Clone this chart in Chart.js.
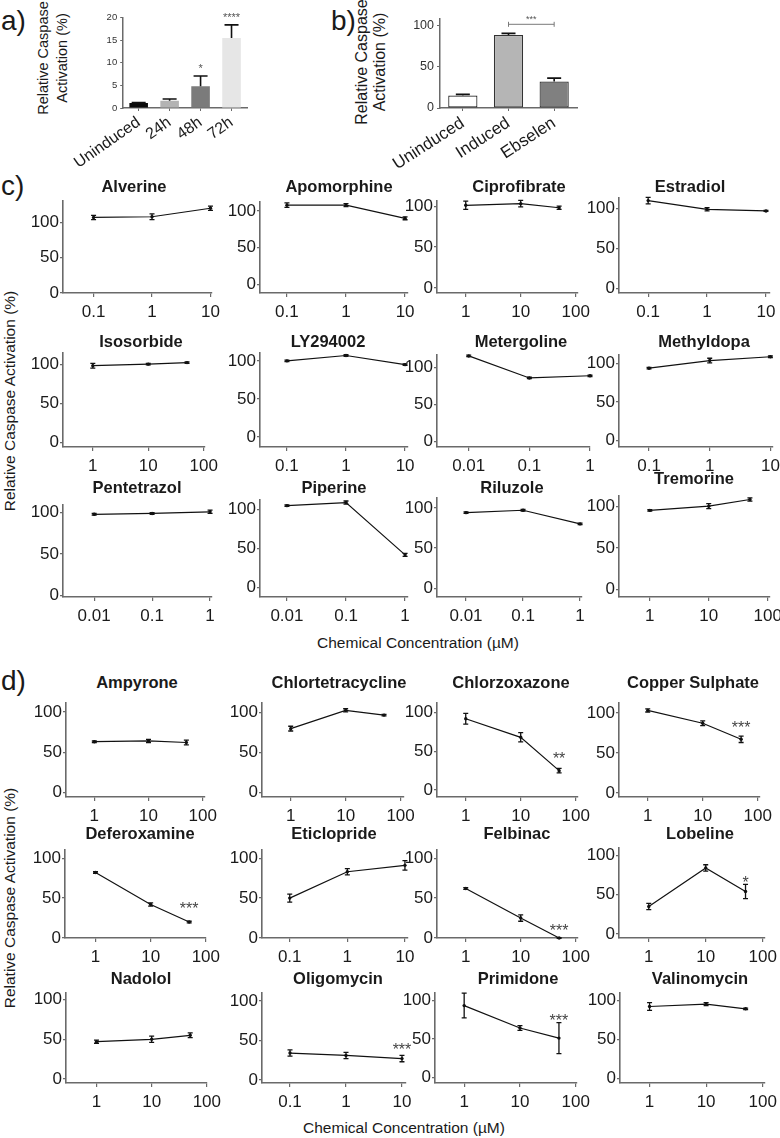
<!DOCTYPE html>
<html>
<head>
<meta charset="utf-8">
<script src="https://cdn.jsdelivr.net/npm/chart.js@4.4.1/dist/chart.umd.min.js"></script>
<style>
html,body{margin:0;padding:0;background:#fff;}
#fig{position:relative;width:780px;height:1138px;overflow:hidden;font-family:"Liberation Sans",Arial,sans-serif;color:#1a1a1a;}
#fig canvas{position:absolute;}
.t{position:absolute;white-space:nowrap;line-height:1;}
.plabel{font-size:28px;transform:translateY(-50%);}
.ctitle{font-weight:bold;font-size:16.5px;transform:translate(-50%,-50%);}
.rot{transform:translate(-50%,-50%) rotate(-90deg);text-align:center;}
.xt{transform:translate(-50%,-50%);font-size:15.5px;}
</style>
</head>
<body>
<div id="fig"></div>
<script>
// ================= DATA =================
// Panel a
const aCategories = ['Uninduced', '24h', '48h', '72h'];
const aValues = [1.1, 1.6, 4.8, 15.5];
const aErrors = [0.1, 0.4, 2.3, 2.9];
const aStars = ['', '', '*', '****'];
const aYTicks = [0, 5, 10, 15, 20];

// Panel b
const bCategories = ['Uninduced', 'Induced', 'Ebselen'];
const bValues = [15, 88, 32];
const bErrors = [1.4, 2, 4];
const bYTicks = [0, 50, 100];
const bCompare = [1, 2];
const bCompareStars = '***';

// Panel c
const cNames = ['Alverine', 'Apomorphine', 'Ciprofibrate', 'Estradiol', 'Isosorbide', 'LY294002', 'Metergoline', 'Methyldopa', 'Pentetrazol', 'Piperine', 'Riluzole', 'Tremorine'];
const cDoses = [[0.1, 1, 10], [0.1, 1, 10], [1, 10, 50], [0.1, 1, 10], [1, 10, 50], [0.1, 1, 10], [0.01, 0.1, 1], [0.1, 1, 10], [0.01, 0.1, 1], [0.01, 0.1, 1], [0.01, 0.1, 1], [1, 10, 50]];
const cXTicks = [[0.1, 1, 10], [0.1, 1, 10], [1, 10, 100], [0.1, 1, 10], [1, 10, 100], [0.1, 1, 10], [0.01, 0.1, 1], [0.1, 1, 10], [0.01, 0.1, 1], [0.01, 0.1, 1], [0.01, 0.1, 1], [1, 10, 100]];
const cMeans = [[107, 108, 120], [108, 108, 90], [101, 103, 98], [110, 99, 97], [98, 100, 102], [100, 107, 95], [116, 86, 89], [94, 104, 109], [98, 99, 101], [105, 109, 42], [94, 97, 80], [95, 100, 108]];
const cErrors = [[3, 4, 3], [3, 2, 2], [5, 4, 2], [4, 2, 0.6], [3, 1, 1], [1, 1, 1], [1, 1, 1], [1, 3, 1], [1, 1, 2], [1, 2, 2], [1, 1, 1], [1, 3, 2]];
const cStars = ['', '', '', '', '', '', '', '', '', '', '', ''];

// Panel d
const dNames = ['Ampyrone', 'Chlortetracycline', 'Chlorzoxazone', 'Copper Sulphate', 'Deferoxamine', 'Eticlopride', 'Felbinac', 'Lobeline', 'Nadolol', 'Oligomycin', 'Primidone', 'Valinomycin'];
const dDoses = [[1, 10, 50], [1, 10, 50], [1, 10, 50], [1, 10, 50], [1, 10, 50], [0.1, 1, 10], [1, 10, 50], [1, 10, 50], [1, 10, 50], [0.1, 1, 10], [1, 10, 50], [1, 10, 50]];
const dXTicks = [[1, 10, 100], [1, 10, 100], [1, 10, 100], [1, 10, 100], [1, 10, 100], [0.1, 1, 10], [1, 10, 100], [1, 10, 100], [1, 10, 100], [0.1, 1, 10], [1, 10, 100], [1, 10, 100]];
const dMeans = [[63, 64, 62], [80, 103, 97], [92, 68, 25], [103, 87, 67], [82, 42, 20], [50, 83, 91], [62, 25, 0], [35, 84, 54], [47, 50, 55], [34, 31, 27], [93, 64, 51], [92, 95, 89]];
const dErrors = [[1, 2, 3], [3, 2, 1], [7, 6, 3], [2, 3, 4], [1, 2, 1], [5, 4, 6], [1, 4, 0.5], [4, 4, 9], [2, 4, 3], [4, 4, 4], [16, 3, 20], [5, 2, 1]];
const dStars = ['', '', '**', '***', '***', '', '***', '*', '', '***', '***', ''];

const yTicksPct = [0, 50, 100];

// ================= LAYOUT (positions / sizes) =================
const cLayout = [
  {box: [63, 198, 213, 293], y: [0, 130], x: [0.030, 10.4], title: [134, 186]},
  {box: [260, 199, 408, 293], y: [-12, 112], x: [0.035, 11.2], title: [339, 186]},
  {box: [437, 198, 583, 293], y: [-6, 106], x: [0.31, 108], title: [519, 186]},
  {box: [619, 195, 770, 293], y: [-6, 113], x: [0.032, 11.7], title: [690, 186]},
  {box: [63, 350, 211, 447], y: [-6, 114], x: [0.29, 104], title: [141, 341]},
  {box: [260, 350, 408, 447], y: [-13, 110], x: [0.035, 11.2], title: [328, 341]},
  {box: [437, 352, 590, 447], y: [-8, 117], x: [0.003, 1.0], title: [521, 341]},
  {box: [619, 352, 773, 447], y: [-9, 111], x: [0.032, 10.8], title: [704, 341]},
  {box: [63, 502, 212, 597], y: [-2, 109], x: [0.0029, 1.08], title: [137, 487]},
  {box: [260, 497, 408, 597], y: [-12, 112], x: [0.0035, 1.12], title: [334, 487]},
  {box: [437, 495, 582, 597], y: [-11, 112], x: [0.0031, 1.08], title: [512, 487]},
  {box: [619, 493, 775, 597], y: [-9, 112], x: [0.31, 108], title: [694, 478]}
];
const dLayout = [
  {box: [66, 700, 210, 797], y: [-6, 111], x: [0.31, 108], title: [137, 682], sdy: 11},
  {box: [262, 700, 408, 797], y: [-6, 112], x: [0.33, 113], title: [339, 682], sdy: 11},
  {box: [437, 700, 583, 797], y: [-9, 112], x: [0.31, 108], title: [511, 682], sdy: 13},
  {box: [619, 700, 765, 797], y: [-5, 112], x: [0.33, 108], title: [693, 682], sdy: 12},
  {box: [65, 847, 213, 938], y: [0, 110], x: [0.28, 100], title: [140, 833], sdy: 16},
  {box: [262, 847, 408, 938], y: [0, 110], x: [0.033, 11.3], title: [334, 833], sdy: 11},
  {box: [437, 847, 583, 938], y: [0, 110], x: [0.31, 108], title: [517, 833], sdy: 11},
  {box: [619, 845, 770, 938], y: [-5, 109], x: [0.30, 108], title: [700, 833], sdy: 6},
  {box: [66, 990, 214, 1083], y: [-5, 108], x: [0.28, 100], title: [141, 978], sdy: 11},
  {box: [262, 990, 406, 1083], y: [-4, 110], x: [0.0316, 11.8], title: [338, 978], sdy: 10},
  {box: [435, 990, 583, 1083], y: [-7, 109], x: [0.32, 104], title: [518, 978], sdy: 6},
  {box: [620, 990, 770, 1083], y: [-6, 109], x: [0.30, 108], title: [700, 978], sdy: 11}
];

const FF = '"Liberation Sans", Arial, Helvetica, sans-serif';
const AXIS = '#6a6a6a';
const fig = document.getElementById('fig');

function addText(txt, cls, x, y, extra) {
  const d = document.createElement('div');
  d.className = 't ' + cls;
  d.innerHTML = txt;
  d.style.left = x + 'px';
  d.style.top = y + 'px';
  if (extra) Object.assign(d.style, extra);
  fig.appendChild(d);
  return d;
}

function makeCanvas(left, top, w, h) {
  const cv = document.createElement('canvas');
  cv.width = w; cv.height = h;
  cv.style.left = left + 'px'; cv.style.top = top + 'px';
  cv.style.width = w + 'px'; cv.style.height = h + 'px';
  fig.appendChild(cv);
  return cv;
}

// Error bars + significance stars
const errorPlugin = {
  id: 'errs',
  afterDatasetsDraw(chart) {
    const ctx = chart.ctx, ys = chart.scales.y;
    chart.data.datasets.forEach((ds, di) => {
      const ex = ds.errInfo; if (!ex) return;
      const meta = chart.getDatasetMeta(di);
      ctx.save();
      ctx.strokeStyle = ex.color; ctx.lineWidth = ex.width;
      meta.data.forEach((el, i) => {
        const m = ex.means[i], e = ex.errors[i];
        const x = el.x;
        const yTop = ys.getPixelForValue(m + e);
        const yBot = ex.upOnly ? ys.getPixelForValue(m) : ys.getPixelForValue(m - e);
        ctx.beginPath();
        ctx.moveTo(x, yTop); ctx.lineTo(x, yBot);
        ctx.moveTo(x - ex.cap, yTop); ctx.lineTo(x + ex.cap, yTop);
        if (!ex.upOnly) { ctx.moveTo(x - ex.cap, yBot); ctx.lineTo(x + ex.cap, yBot); }
        ctx.stroke();
        const s = ex.stars && ex.stars[i];
        if (s) {
          ctx.fillStyle = ex.starColor;
          ctx.font = ex.starSize + 'px ' + FF;
          ctx.textAlign = 'center'; ctx.textBaseline = 'alphabetic';
          ctx.fillText(s, x, yTop - ex.starDy + 0.57 * ex.starSize);
        }
      });
      ctx.restore();
    });
  }
};

// Comparison bracket (panel b)
const bracketPlugin = {
  id: 'bracket',
  afterDatasetsDraw(chart, args, opts) {
    if (!opts || !opts.pair) return;
    const ctx = chart.ctx, xs = chart.scales.x, ys = chart.scales.y;
    const x1 = xs.getPixelForValue(opts.pair[0]), x2 = xs.getPixelForValue(opts.pair[1]);
    const y = ys.getPixelForValue(opts.value);
    ctx.save();
    ctx.strokeStyle = '#7a7a7a'; ctx.lineWidth = 1;
    ctx.beginPath();
    ctx.moveTo(x1, y); ctx.lineTo(x2, y);
    ctx.moveTo(x1, y - 2.5); ctx.lineTo(x1, y + 2.5);
    ctx.moveTo(x2, y - 2.5); ctx.lineTo(x2, y + 2.5);
    ctx.stroke();
    ctx.fillStyle = '#555';
    ctx.font = '9px ' + FF; ctx.textAlign = 'center'; ctx.textBaseline = 'alphabetic';
    ctx.fillText(opts.label, (x1 + x2) / 2, y - 2);
    ctx.restore();
  }
};

function barChart(cfg) {
  const [L, T, R, B] = cfg.box;
  const padL = cfg.padL, padT = 8, padR = 8, padB = cfg.padB;
  const cv = makeCanvas(L - padL, T - padT, R - L + padL + padR, B - T + padT + padB);
  new Chart(cv, {
    type: 'bar',
    data: {
      labels: cfg.labels,
      datasets: [{
        data: cfg.values,
        backgroundColor: cfg.colors,
        borderColor: cfg.borders,
        borderWidth: cfg.borderWidth,
        borderSkipped: false,
        barPercentage: cfg.barPct, categoryPercentage: 1,
        errInfo: {means: cfg.values, errors: cfg.errors, upOnly: true, cap: cfg.cap, color: '#111', width: 1.6,
          stars: cfg.stars, starColor: '#555', starSize: cfg.starSize, starDy: cfg.starDy}
      }]
    },
    options: {
      responsive: false, animation: false, devicePixelRatio: 1,
      layout: {padding: {left: 0, top: padT, right: padR, bottom: 0}},
      plugins: {legend: {display: false}, tooltip: {enabled: false}, bracket: cfg.bracket || {}},
      scales: {
        x: {
          afterFit: s => { s.height = padB; },
          ticks: {font: {size: cfg.xFont, family: FF}, color: '#1a1a1a', minRotation: cfg.rot, maxRotation: cfg.rot, autoSkip: false, padding: 2},
          grid: {display: true, drawOnChartArea: false, offset: false, tickLength: 3, color: AXIS, lineWidth: 1},
          border: {display: true, color: AXIS, width: 1.5}
        },
        y: {
          min: cfg.y[0], max: cfg.y[1],
          afterFit: s => { s.width = padL; },
          afterBuildTicks: s => { s.ticks = cfg.yTicks.map(v => ({value: v})); },
          ticks: {font: {size: cfg.yFont, family: FF}, color: '#333', padding: 3},
          grid: {display: true, drawOnChartArea: false, tickLength: 3, color: AXIS, lineWidth: 1},
          border: {display: true, color: AXIS, width: 1.5}
        }
      }
    },
    plugins: [errorPlugin, bracketPlugin]
  });
}

function lineChart(name, doses, ticks, means, errors, star, lay) {
  const [L, T, R, B] = lay.box;
  const padL = 50, padT = 8, padR = 12, padB = 32;
  const cv = makeCanvas(L - padL, T - padT, R - L + padL + padR, B - T + padT + padB);
  const starArr = doses.map((d, i) => (i === doses.length - 1 ? star : ''));
  new Chart(cv, {
    type: 'line',
    data: {
      datasets: [{
        data: doses.map((d, i) => ({x: d, y: means[i]})),
        borderColor: '#111', borderWidth: 1.2, tension: 0, clip: false,
        pointRadius: 1.7, pointBackgroundColor: '#111', pointBorderWidth: 0,
        errInfo: {means: means, errors: errors, upOnly: false, cap: 2.5, color: '#111', width: 1.3,
          stars: starArr, starColor: '#444', starSize: 16, starDy: lay.sdy || 11}
      }]
    },
    options: {
      responsive: false, animation: false, devicePixelRatio: 1,
      layout: {padding: {left: 0, top: padT, right: padR, bottom: 0}},
      plugins: {legend: {display: false}, tooltip: {enabled: false}},
      scales: {
        x: {
          type: 'logarithmic', min: lay.x[0], max: lay.x[1],
          afterFit: s => { s.height = padB; },
          afterBuildTicks: s => { s.ticks = ticks.map(v => ({value: v})); },
          ticks: {callback: v => String(v), font: {size: 17, family: FF}, color: '#1a1a1a', padding: 5, maxRotation: 0, autoSkip: false},
          grid: {display: true, drawOnChartArea: false, tickLength: 4, color: AXIS, lineWidth: 1.2},
          border: {display: true, color: AXIS, width: 1.6}
        },
        y: {
          min: lay.y[0], max: lay.y[1],
          afterFit: s => { s.width = padL; },
          afterBuildTicks: s => { s.ticks = yTicksPct.map(v => ({value: v})); },
          ticks: {font: {size: 17, family: FF}, color: '#1a1a1a', padding: 1},
          grid: {display: true, drawOnChartArea: false, tickLength: 3, color: AXIS, lineWidth: 1.2},
          border: {display: true, color: AXIS, width: 1.6}
        }
      }
    },
    plugins: [errorPlugin]
  });
  addText(name, 'ctitle', lay.title[0], lay.title[1]);
}

// ----- Panel a -----
addText('a)', 'plabel', 1, 21);
addText('Relative Caspase<br>Activation (%)', 'rot', 53, 58, {fontSize: '14.5px', lineHeight: '19px'});
barChart({
  box: [109, 17, 247, 108], padL: 40, padB: 70, y: [0, 20], yTicks: aYTicks,
  labels: aCategories, values: aValues, errors: aErrors, stars: aStars,
  colors: ['#0a0a0a', '#b3b3b3', '#7b7b7b', '#e6e6e6'],
  borders: ['#0a0a0a', '#b3b3b3', '#7b7b7b', '#e6e6e6'], borderWidth: 0,
  barPct: 0.6, cap: 7, starSize: 11, starDy: 10, xFont: 16, yFont: 9.5, rot: 35
});

// ----- Panel b -----
addText('b)', 'plabel', 331, 21);
addText('Relative Caspase<br>Activation (%)', 'rot', 371, 62, {fontSize: '16px', lineHeight: '18px'});
barChart({
  box: [426, 16, 577, 108], padL: 40, padB: 70, y: [0, 108], yTicks: bYTicks,
  labels: bCategories, values: bValues, errors: bErrors, stars: null,
  colors: ['#ffffff', '#b5b5b5', '#808080'],
  borders: ['#222', '#333', '#333'], borderWidth: 1.2,
  barPct: 0.64, cap: 7, starSize: 9, starDy: 8, xFont: 17, yFont: 12.5, rot: 33,
  bracket: {pair: bCompare, value: 101, label: bCompareStars}
});

// ----- Panel c -----
addText('c)', 'plabel', 1, 186);
addText('Relative Caspase Activation (%)', 'rot', 10, 401, {fontSize: '15.5px'});
cNames.forEach((n, i) => lineChart(n, cDoses[i], cXTicks[i], cMeans[i], cErrors[i], cStars[i], cLayout[i]));
addText('Chemical Concentration (&micro;M)', 'xt', 418, 643);

// ----- Panel d -----
addText('d)', 'plabel', 1, 681);
addText('Relative Caspase Activation (%)', 'rot', 10, 898, {fontSize: '15.5px'});
dNames.forEach((n, i) => lineChart(n, dDoses[i], dXTicks[i], dMeans[i], dErrors[i], dStars[i], dLayout[i]));
addText('Chemical Concentration (&micro;M)', 'xt', 404, 1128);
</script>
</body>
</html>
